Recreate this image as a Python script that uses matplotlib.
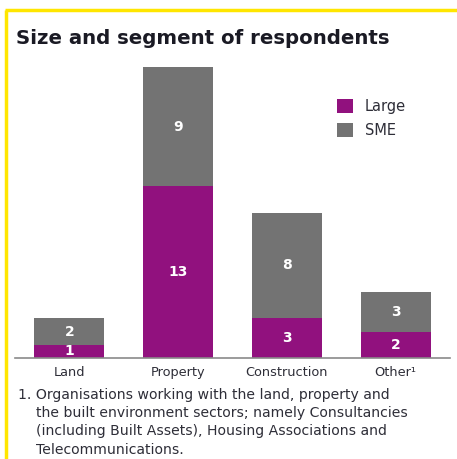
import matplotlib.pyplot as plt
from matplotlib.lines import Line2D
import numpy as np

categories = ['Land', 'Property', 'Construction', 'Other\u00b9']
large = [1, 13, 3, 2]
sme = [2, 9, 8, 3]

PURPLE = '#91117e'
GREY = '#737373'
YELLOW = '#ffe600'

W, H = 457, 459
fig = plt.figure(figsize=(W / 100, H / 100), dpi=100)

# yellow frame (top and left)
fig.add_artist(Line2D([5 / W, 1], [1 - 10 / H, 1 - 10 / H], color=YELLOW, lw=2.5,
                      solid_capstyle='butt'))
fig.add_artist(Line2D([6 / W, 6 / W], [0, 1 - 10 / H], color=YELLOW, lw=2.5,
                      solid_capstyle='butt'))

fig.text(16 / W, 1 - 38 / H, 'Size and segment of respondents', fontsize=14.2,
         fontweight='bold', color='#1a1a24', va='center', ha='left')

ax = fig.add_axes([15 / W, (H - 358) / H, 435 / W, 291 / H])
x = np.arange(len(categories))
ax.bar(x, large, width=0.643, color=PURPLE, label='Large')
ax.bar(x, sme, width=0.643, bottom=large, color=GREY, label='SME')
ax.set_xlim(-0.5, 3.5)
ax.set_ylim(0, 22)

for i in range(len(categories)):
    ax.text(x[i], large[i] / 2, str(large[i]), color='white', fontweight='bold',
            fontsize=10, ha='center', va='center')
    ax.text(x[i], large[i] + sme[i] / 2, str(sme[i]), color='white', fontweight='bold',
            fontsize=10, ha='center', va='center')

for s in ['top', 'right', 'left']:
    ax.spines[s].set_visible(False)
ax.spines['bottom'].set_color('#8a8a8a')
ax.spines['bottom'].set_linewidth(1.2)
ax.set_yticks([])
ax.set_xticks(x)
ax.set_xticklabels(categories, fontsize=9.3, color='#2e2e38')
ax.tick_params(axis='x', length=0, pad=6)

leg = fig.legend(loc='upper left', bbox_to_anchor=(324 / W, 1 - 86 / H), frameon=False,
                 fontsize=10.5, handlelength=1.1, handleheight=1.1, handletextpad=0.8,
                 labelspacing=0.6, labelcolor='#2e2e38')

foot = ('1. Organisations working with the land, property and\n'
        '    the built environment sectors; namely Consultancies\n'
        '    (including Built Assets), Housing Associations and\n'
        '    Telecommunications.')
fig.text(18 / W, 1 - 388 / H, foot, fontsize=10.1, color='#2e2e38', va='top',
         ha='left', linespacing=1.38)

fig.savefig('out.png', dpi=100)
